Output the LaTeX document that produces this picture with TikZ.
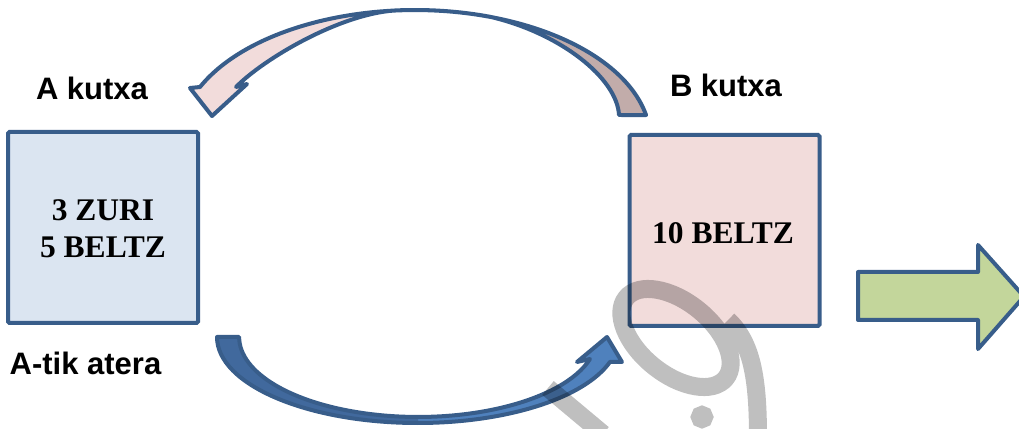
\documentclass[tikz,border=0pt]{standalone}
\usepackage{fontspec}
\setmainfont{Liberation Serif}
\newfontfamily\arialfam{Liberation Sans}
\definecolor{bordc}{HTML}{385D8A}
\definecolor{fillA}{HTML}{DBE5F1}
\definecolor{fillB}{HTML}{F2DCDB}
\definecolor{grn}{HTML}{C3D69B}
\definecolor{pinkback}{HTML}{C2ACAA}
\definecolor{bluefront}{HTML}{4F81BD}
\definecolor{blueback}{HTML}{41699D}
\newcommand\toparrow[1]{\path[#1] (200,341) arc[start angle=155.9, end angle=11.1, x radius=235.5, y radius=130] -- (619,313) .. controls (617,350) and (560,395) .. (490.1,411.2) arc[start angle=71.4, end angle=94.9, x radius=235.5, y radius=130] .. controls (340,414) and (264,369.5) .. (236,341) -- (247,344) -- (212,312) -- (190,340) -- cycle;}
\newcommand\botarrow[1]{\path[#1] (217,91) arc[start angle=180, end angle=343.1, x radius=200.8, y radius=86] -- (622,66) -- (607,91) -- (577,66) -- (590,69) arc[start angle=344.0, end angle=180, x radius=178.9, y radius=80] -- cycle;}
\begin{document}
\begin{tikzpicture}[x=1pt,y=1pt,
  boxstyle/.style={draw=bordc, line width=4pt, minimum width=190pt, minimum height=191pt, inner sep=0pt, rounded corners=1.5pt},
  valtext/.style={font=\bfseries\fontsize{31.5}{37}\selectfont, align=center, inner sep=0pt},
  lbltext/.style={font=\arialfam\bfseries\fontsize{31}{37}\selectfont, inner sep=0pt, anchor=base},
  shapeline/.style={draw=bordc, line width=4pt, line join=round},
  wmark/.style={draw=black, draw opacity=0.25, line width=18pt}
]
\useasboundingbox (0,0) rectangle (1019,428);
\fill[white] (0,0) rectangle (1019,428);

% boxes
\node[boxstyle, fill=fillA] (A) at (103,200.5) {};
\node[boxstyle, fill=fillB] (B) at (724.5,197.5) {};
\node[valtext] (Atext) at (103,199) {3 ZURI\\5 BELTZ};
\node[valtext] (Btext) at (723,194.5) {10 BELTZ};

% labels
\node[lbltext] (Alabel) at (92,328) {A kutxa};
\node[lbltext] (Blabel) at (726,331) {B kutxa};
\node[lbltext] (Aout) at (85.5,53) {A-tik atera};

% top curved arrow (B -> A)
\toparrow{fill=fillB}
\begin{scope}
  \clip (440,0) rectangle (1019,428);
  \toparrow{fill=pinkback}
\end{scope}
\toparrow{shapeline}

% bottom curved arrow (A -> B)
\botarrow{fill=bluefront}
\begin{scope}
  \clip (0,0) rectangle (418,428);
  \botarrow{fill=blueback}
\end{scope}
\botarrow{shapeline}

% right block arrow
\path[shapeline, fill=grn] (858,156) -- (978,156) -- (978,183) -- (1024,131.5) -- (978,79) -- (978,108) -- (858,108) -- cycle;

% watermark
\path[wmark] {[rotate around={-39:(676,90)}] (676,90) ellipse [x radius=64, y radius=36]}
  (728,108) .. controls (752,85) and (758,50) .. (758,-10)
  (702,11) circle [radius=2]
  (548,40) -- (603,-6);
\end{tikzpicture}
\end{document}
